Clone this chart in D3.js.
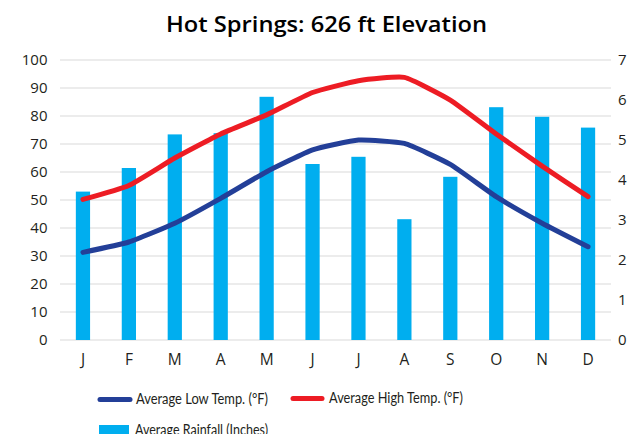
<!DOCTYPE html>
<html><head><meta charset="utf-8">
<script src="https://cdn.jsdelivr.net/npm/d3@7"></script>
<style>body{margin:0;background:#fff;} svg{display:block;} text{font-family:"Open Sans", Lato, sans-serif;fill:#231f20;}</style>
</head><body>
<svg id="c" width="636" height="434"></svg>
<script>
const months = ["J","F","M","A","M","J","J","A","S","O","N","D"];
const lowTemp = [31.3, 35.0, 41.7, 50.6, 60.1, 67.9, 71.4, 70.2, 62.7, 51.2, 41.7, 33.3];
const highTemp = [50.2, 55.2, 65.0, 73.6, 80.4, 88.4, 92.6, 93.8, 85.7, 73.6, 62.1, 51.2];
const rainfall = [3.71, 4.30, 5.14, 5.17, 6.08, 4.40, 4.58, 3.02, 4.08, 5.82, 5.58, 5.31];
const leftTicks = [0,10,20,30,40,50,60,70,80,90,100];
const rightTicks = [0,1,2,3,4,5,6,7];
const title = "Hot Springs: 626 ft Elevation";
const legendLow = "Average Low Temp. (°F)";
const legendHigh = "Average High Temp. (°F)";
const legendRain = "Average Rainfall (Inches)";

const svg = d3.select("#c");
const m = {l:60, r:611, t:60, b:340};
const idx = d3.range(12);
const x = d3.scaleBand().domain(idx).range([m.l, m.r]).paddingInner(0.69).paddingOuter(0.345);
const yL = d3.scaleLinear().domain([0,100]).range([m.b, m.t]);
const yR = d3.scaleLinear().domain([0,7]).range([m.b, m.t]);
const cx = i => x(i) + x.bandwidth()/2;

svg.append("text").attr("x", 166).attr("y", 32)
  .attr("textLength", 321).attr("lengthAdjust","spacingAndGlyphs")
  .style("font-size","22px").style("font-weight","600").style("fill","#000").text(title);

// gridlines
svg.append("g").selectAll("line").data(leftTicks).join("line")
  .attr("x1", m.l).attr("x2", m.r).attr("y1", d=>yL(d)).attr("y2", d=>yL(d))
  .attr("stroke","#d9d9d9").attr("stroke-width",1.2);

const tickFont = (g, s) => g.selectAll("text").style("font-size", s).style("font-family","Open Sans").attr("fill","#231f20");

// left axis
const gl = svg.append("g").attr("transform",`translate(${m.l},0)`)
  .call(d3.axisLeft(yL).tickValues(leftTicks).tickSize(0).tickPadding(12.5));
gl.select(".domain").remove();
tickFont(gl, "15px");

// right axis
const gr = svg.append("g").attr("transform",`translate(${m.r},0)`)
  .call(d3.axisRight(yR).tickValues(rightTicks).tickFormat(d3.format("d")).tickSize(0).tickPadding(7));
gr.select(".domain").remove();
tickFont(gr, "15px");

// bars
svg.append("g").selectAll("rect").data(rainfall).join("rect")
  .attr("x",(d,i)=>x(i)).attr("width",x.bandwidth())
  .attr("y",d=>yR(d)).attr("height",d=>yR(0)-yR(d)).attr("fill","#00aeef");

// month labels
const gx = svg.append("g").attr("transform",`translate(0,${m.b})`)
  .call(d3.axisBottom(x).tickFormat(i=>months[i]).tickSize(0).tickPadding(14));
gx.select(".domain").remove();
tickFont(gx, "15.5px");

const line = d3.line().x((d,i)=>cx(i)).y(d=>yL(d)).curve(d3.curveCardinal.tension(0.55));
svg.append("path").datum(lowTemp).attr("d",line).attr("fill","none")
  .attr("stroke","#233f98").attr("stroke-width",5).attr("stroke-linecap","round").attr("stroke-linejoin","round");
svg.append("path").datum(highTemp).attr("d",line).attr("fill","none")
  .attr("stroke","#ed1c24").attr("stroke-width",5).attr("stroke-linecap","round").attr("stroke-linejoin","round");

// legend
const lg = svg.append("g");
const lf = "14.5px";
const legText = (xp, yp, w, t) => lg.append("text").attr("x",xp).attr("y",yp)
  .attr("textLength", w).attr("lengthAdjust","spacingAndGlyphs")
  .style("font-size",lf).style("font-family","Lato").text(t);
lg.append("line").attr("x1",100).attr("x2",130).attr("y1",399.5).attr("y2",399.5)
  .attr("stroke","#233f98").attr("stroke-width",5).attr("stroke-linecap","round");
legText(136, 404.3, 132, legendLow);
lg.append("line").attr("x1",293).attr("x2",322).attr("y1",398.5).attr("y2",398.5)
  .attr("stroke","#ed1c24").attr("stroke-width",5).attr("stroke-linecap","round");
legText(329, 403.3, 134, legendHigh);
lg.append("rect").attr("x",99).attr("y",425).attr("width",30).attr("height",12).attr("fill","#00aeef");
legText(135, 435, 133, legendRain);
</script>
</body></html>
